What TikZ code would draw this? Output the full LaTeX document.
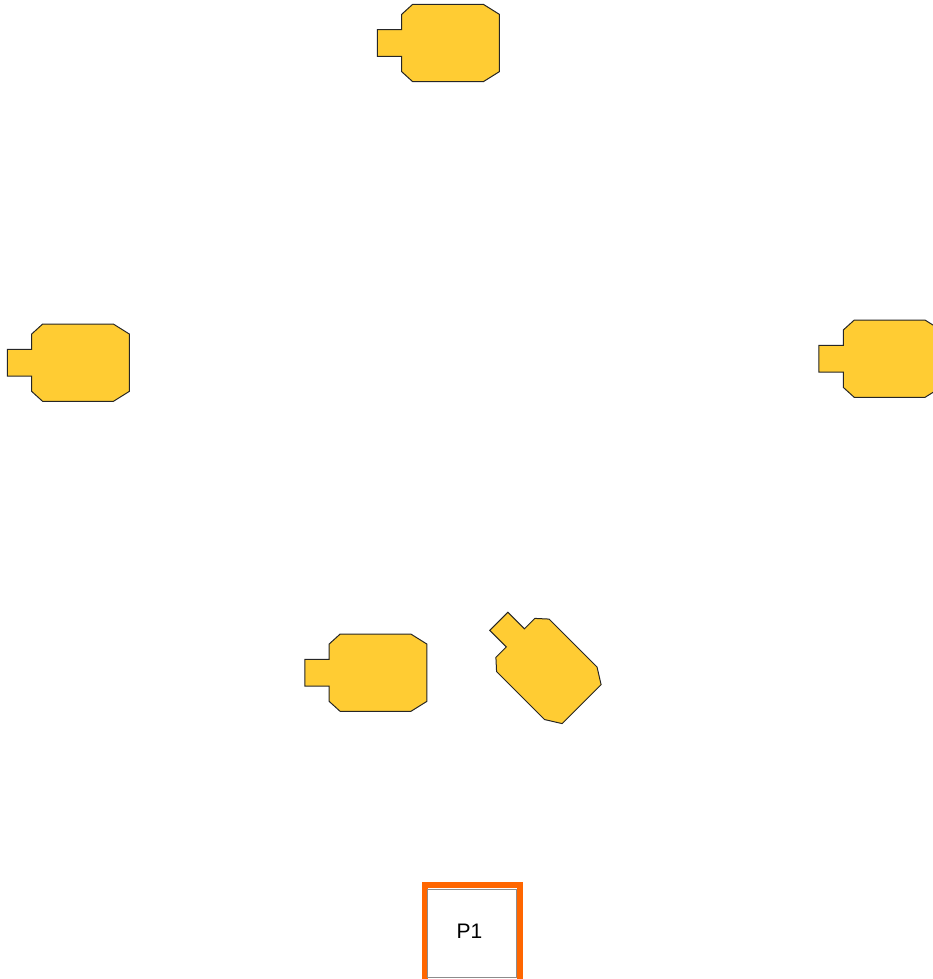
\documentclass[tikz,border=0pt]{standalone}
\usepackage{fontspec}
\setmainfont{Liberation Sans}
\definecolor{motorfill}{RGB}{255,204,51}
\definecolor{pborder}{RGB}{255,102,0}
\tikzset{
  motorshape/.style={draw=black!85, line width=1pt, fill=motorfill, line join=miter},
  motor/.pic={
    \path[motorshape] (-48.8,13.3) -- (-73.2,13.3) -- (-73.2,-13.3) -- (-48.8,-13.3)
      -- (-48.8,-28.7) -- (-37.8,-38.7) -- (32.8,-38.7) -- (48.8,-28.7)
      -- (48.8,28.7) -- (32.8,38.7) -- (-37.8,38.7) -- (-48.8,28.7) -- cycle;
  },
  pbox/.style={draw=pborder, line width=6pt},
  pinner/.style={draw=black!45, line width=0.6pt, fill=white},
}
\begin{document}
\begin{tikzpicture}[x=1pt,y=-1pt]
\useasboundingbox (0,0) rectangle (933,979);
\clip (0,0) rectangle (933,979);
\pic at (450.5,43) {motor};
\pic at (80.5,362.7) {motor};
\pic at (892.1,358.7) {motor};
\pic at (378,672.7) {motor};
\pic[rotate=-45, scale=0.96] at (548.5,671) {motor};
\draw[pbox] (424.7,885.3) rectangle (519.5,983);
\draw[pinner] (427.7,889) rectangle (516.7,977.7);
\node[font=\fontsize{21}{24}\selectfont, inner sep=0pt] (p1) at (469.5,930.8) {P1};
\end{tikzpicture}
\end{document}
